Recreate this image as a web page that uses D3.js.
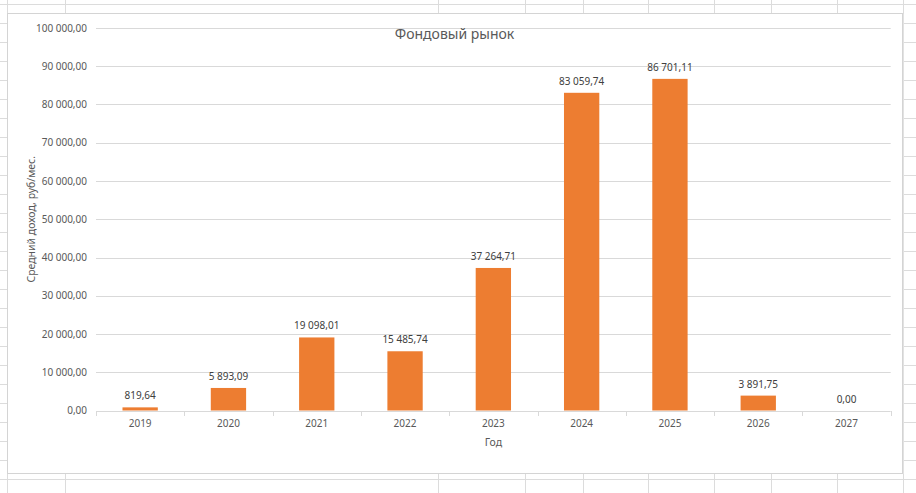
<!DOCTYPE html>
<html>
<head>
<meta charset="utf-8">
<script src="https://cdn.jsdelivr.net/npm/d3@7"></script>
<style>
  body { margin: 0; background: #fff; }
  text { font-family: "Noto Sans", "Open Sans", sans-serif; }
</style>
</head>
<body>
<div id="chart"></div>
<script>
// chart data
const years = ["2019", "2020", "2021", "2022", "2023", "2024", "2025", "2026", "2027"];
const income = [819.64, 5893.09, 19098.01, 15485.74, 37264.71, 83059.74, 86701.11, 3891.75, 0];
const yTicks = [0, 10000, 20000, 30000, 40000, 50000, 60000, 70000, 80000, 90000, 100000];

const W = 916, H = 493;

const svg = d3.select("#chart")
  .append("svg")
    .attr("width", W)
    .attr("height", H);

// excel sheet grid behind the chart
const sheetCols = [7, 65, 438, 525, 583, 648, 714, 771, 837, 903];
const sheet = svg.append("g").attr("stroke", "#dcdcdc").attr("stroke-width", 1);
sheet.selectAll("line.col")
  .data(sheetCols)
  .join("line")
    .attr("x1", d => d + 0.5).attr("x2", d => d + 0.5)
    .attr("y1", 0).attr("y2", H);
sheet.selectAll("line.row")
  .data(d3.range(4, H, 18.98))
  .join("line")
    .attr("x1", 0).attr("x2", W)
    .attr("y1", d => Math.round(d) + 0.5).attr("y2", d => Math.round(d) + 0.5);

// chart area
svg.append("rect")
  .attr("x", 7.5).attr("y", 13.5)
  .attr("width", 895).attr("height", 460)
  .attr("fill", "#fff")
  .attr("stroke", "#d4d4d4");
svg.append("line")
  .attr("x1", 903.5).attr("x2", 903.5)
  .attr("y1", 14).attr("y2", 474)
  .attr("stroke", "#e2e2e2");

const plot = {left: 96, right: 890.7, top: 28, bottom: 410.5};

const x = d3.scaleBand()
  .domain(years)
  .range([plot.left, plot.right])
  .paddingInner(0.6)
  .paddingOuter(0.3);

const y = d3.scaleLinear()
  .domain([0, 100000])
  .range([plot.bottom, plot.top]);

const fmt = v => d3.format(",.2f")(v).replace(/,/g, " ").replace(".", ",");

// gridlines
svg.append("g")
  .selectAll("line")
  .data(yTicks.slice(1))
  .join("line")
    .attr("x1", plot.left).attr("x2", plot.right)
    .attr("y1", d => Math.round(y(d)) + 0.5).attr("y2", d => Math.round(y(d)) + 0.5)
    .attr("stroke", "#d9d9d9");

// y axis labels
const yAxis = svg.append("g")
  .attr("transform", `translate(${plot.left},0)`)
  .call(d3.axisLeft(y).tickValues(yTicks).tickFormat(fmt).tickSize(0).tickPadding(9));
yAxis.select(".domain").remove();
yAxis.selectAll("text")
  .attr("fill", "#595959")
  .style("font-size", "10px");

// bars
svg.append("g")
  .selectAll("rect")
  .data(income)
  .join("rect")
    .attr("x", (d, i) => x(years[i]))
    .attr("y", d => y(d))
    .attr("width", x.bandwidth())
    .attr("height", d => plot.bottom - y(d))
    .attr("fill", "#ED7D31");

// x axis
const xAxis = svg.append("g")
  .attr("transform", `translate(0,${Math.round(plot.bottom) + 0.5})`)
  .call(d3.axisBottom(x).tickSize(0).tickPadding(8));
xAxis.select(".domain").attr("stroke", "#d9d9d9").attr("d", `M${plot.left},0H${plot.right}`);
xAxis.selectAll("text")
  .attr("fill", "#595959")
  .style("font-size", "10px");
// tick marks at category boundaries
svg.append("g")
  .selectAll("line")
  .data(d3.range(years.length + 1))
  .join("line")
    .attr("x1", i => Math.round(plot.left + i * x.step()) + 0.5)
    .attr("x2", i => Math.round(plot.left + i * x.step()) + 0.5)
    .attr("y1", Math.round(plot.bottom))
    .attr("y2", Math.round(plot.bottom) + 5)
    .attr("stroke", "#d9d9d9");

// data labels
svg.append("g")
  .selectAll("text")
  .data(income)
  .join("text")
    .attr("x", (d, i) => x(years[i]) + x.bandwidth() / 2)
    .attr("y", d => y(d) - 8)
    .attr("text-anchor", "middle")
    .attr("fill", "#404040")
    .style("font-size", "10px")
    .text(fmt);

// titles
svg.append("text")
  .attr("x", 454.5).attr("y", 39)
  .attr("text-anchor", "middle")
  .attr("fill", "#595959")
  .style("font-size", "14px")
  .text("Фондовый рынок");

svg.append("text")
  .attr("x", (plot.left + plot.right) / 2).attr("y", 446)
  .attr("text-anchor", "middle")
  .attr("fill", "#595959")
  .style("font-size", "10.5px")
  .text("Год");

svg.append("text")
  .attr("transform", `translate(35,${(plot.top + plot.bottom) / 2}) rotate(-90)`)
  .attr("text-anchor", "middle")
  .attr("fill", "#595959")
  .style("font-size", "10.5px")
  .text("Средний доход, руб/мес.");
</script>
</body>
</html>
